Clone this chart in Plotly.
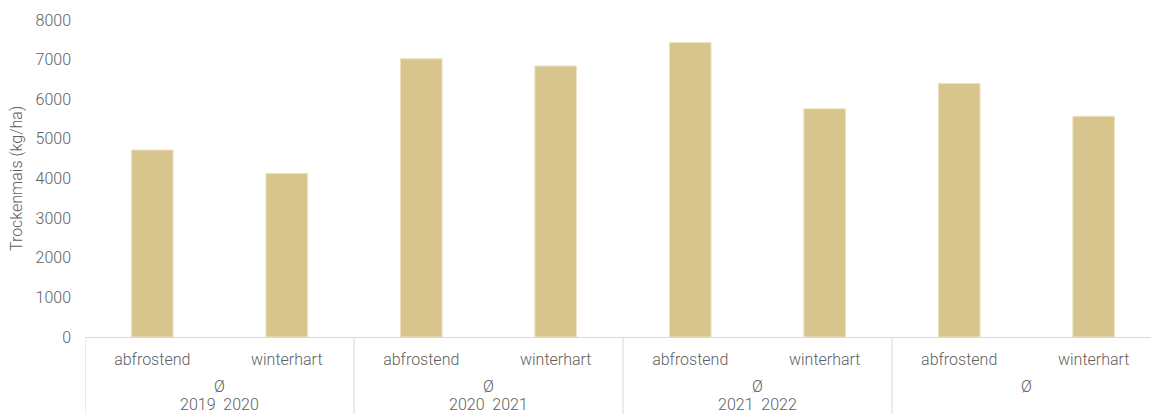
import plotly.graph_objects as go

# Trockenmais yields per season and cover-crop type
seasons = ["2019  2020", "2020  2021", "2021  2022", ""]
types = ["abfrostend", "winterhart"]
yields = [4720, 4130, 7020, 6840, 7430, 5760, 6400, 5570]
y_ticks = [0, 1000, 2000, 3000, 4000, 5000, 6000, 7000, 8000]

# one unique category key per bar, labelled with the type only
keys = [f"{s}|{t}" for s in seasons for t in types]
labels = [t for _ in seasons for t in types]

bar_color = "#D7C58D"
text_color = "#606060"
line_color = "#D9D9D9"
font_family = "Roboto"
text_font = dict(family=font_family, size=16, color=text_color, weight=300)

fig = go.Figure(
    go.Bar(
        x=keys,
        y=yields,
        marker=dict(color=bar_color, line=dict(color="#EDE3C3", width=1)),
        width=0.31,
    )
)

n_types = len(types)
for i, season in enumerate(seasons):
    center = i * n_types + (n_types - 1) / 2
    # "Ø" line and season line of the group label
    fig.add_annotation(
        x=center, y=0, xref="x", yref="paper",
        text="Ø", showarrow=False, yanchor="middle", yshift=-49.5,
        font=text_font,
    )
    if season:
        fig.add_annotation(
            x=center, y=0, xref="x", yref="paper",
            text=season, showarrow=False, yanchor="middle", yshift=-67,
            font=text_font,
        )
    # group divider below the axis line
    fig.add_shape(
        type="line", xref="x", yref="paper",
        x0=i * n_types - 0.5, x1=i * n_types - 0.5, y0=0, y1=-0.3,
        line=dict(color=line_color, width=1),
    )
fig.add_shape(
    type="line", xref="x", yref="paper",
    x0=len(keys) - 0.5, x1=len(keys) - 0.5, y0=0, y1=-0.3,
    line=dict(color=line_color, width=1),
)

fig.update_layout(
    width=1151,
    height=414,
    margin=dict(l=85, r=0, t=20, b=77),
    paper_bgcolor="white",
    plot_bgcolor="white",
    showlegend=False,
    font=text_font,
)

fig.update_xaxes(
    type="category",
    range=[-0.5, 7.426],
    tickmode="array",
    tickvals=keys,
    ticktext=labels,
    showline=True,
    linecolor=line_color,
    linewidth=1,
    showgrid=False,
    ticks="",
    ticklabelstandoff=8,
    tickfont=text_font,
)

fig.update_yaxes(
    range=[0, 8000],
    tickmode="array",
    tickvals=y_ticks,
    showgrid=False,
    zeroline=False,
    showline=False,
    ticks="",
    ticklabelstandoff=13,
    tickfont=text_font,
    title=dict(text="Trockenmais (kg/ha)", font=text_font, standoff=8),
)

fig.write_html("out.html")
